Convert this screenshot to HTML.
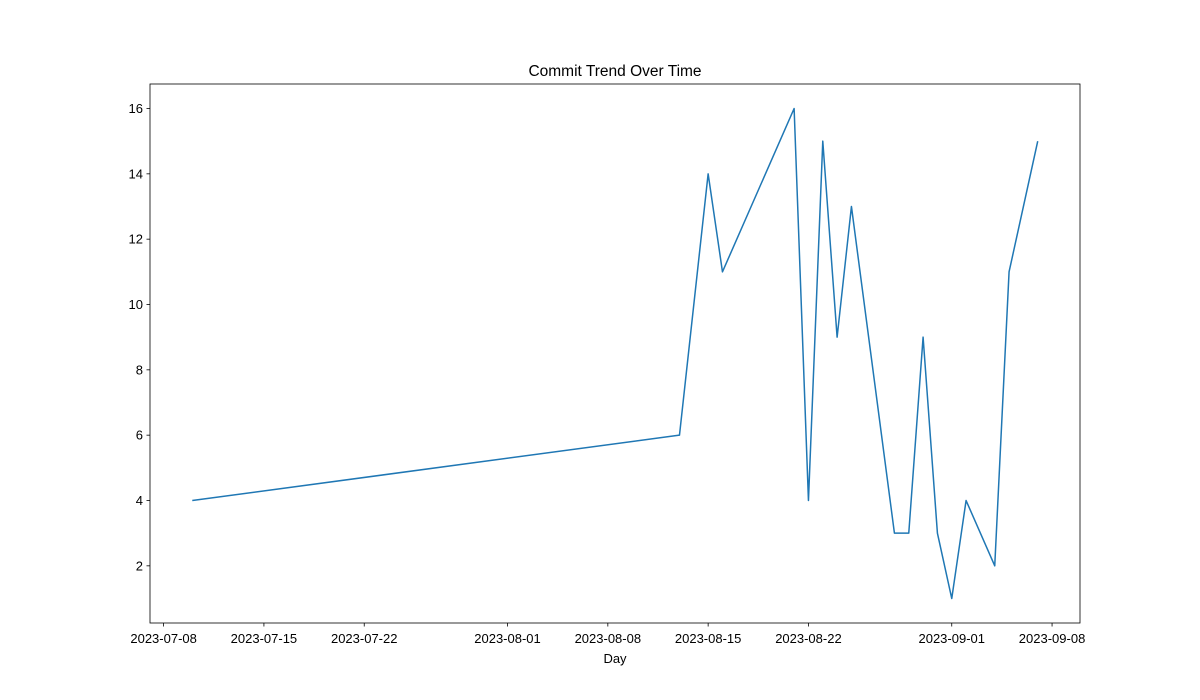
<!DOCTYPE html>
<html><head><meta charset="utf-8"><style>
html,body{margin:0;padding:0;background:#fff;}
svg{display:block;font-family:"Liberation Sans","DejaVu Sans",sans-serif;}
</style></head><body>
<svg id="chart" width="1200" height="700"></svg>
<script>
const dates = ["2023-07-10","2023-08-13","2023-08-15","2023-08-16","2023-08-21","2023-08-22","2023-08-23","2023-08-24","2023-08-25","2023-08-28","2023-08-29","2023-08-30","2023-08-31","2023-09-01","2023-09-02","2023-09-04","2023-09-05","2023-09-07"];
const commits = [4,6,14,11,16,4,15,9,13,3,3,9,3,1,4,2,11,15];
const xTickLabels = ["2023-07-08","2023-07-15","2023-07-22","2023-08-01","2023-08-08","2023-08-15","2023-08-22","2023-09-01","2023-09-08"];
const yTickLabels = [2,4,6,8,10,12,14,16];

const NS="http://www.w3.org/2000/svg";
const svg=document.getElementById('chart');
const L=150,R=1080,T=84,B=623;
const day=s=>Date.parse(s+"T00:00:00Z")/86400000;
const dd=dates.map(day);
const dmin=Math.min(...dd),dmax=Math.max(...dd),dpad=(dmax-dmin)*0.05;
const vmin=Math.min(...commits),vmax=Math.max(...commits),vpad=(vmax-vmin)*0.05;
const xs=d=>L+(d-(dmin-dpad))/((dmax+dpad)-(dmin-dpad))*(R-L);
const ys=v=>B-(v-(vmin-vpad))/((vmax+vpad)-(vmin-vpad))*(B-T);
function mk(tag,attrs,txt){const e=document.createElementNS(NS,tag);for(const k in attrs)e.setAttribute(k,attrs[k]);if(txt!==undefined)e.textContent=txt;svg.appendChild(e);return e;}

// line
const pts=dd.map((d,i)=>xs(d).toFixed(2)+","+ys(commits[i]).toFixed(2)).join(" ");
const line=mk('polyline',{points:pts,fill:'none',stroke:'#1f77b4','stroke-width':1.5,'stroke-linejoin':'round'});



// frame
const frame=mk('rect',{x:L,y:T,width:R-L,height:B-T,fill:'none',stroke:'#000','stroke-width':0.8});



// x ticks
xTickLabels.forEach(lbl=>{
  const x=xs(day(lbl));
  const t=mk('line',{x1:x,x2:x,y1:B,y2:B+3.5,stroke:'#000','stroke-width':0.8});
  
  
  const tx=mk('text',{x:x,y:B+20,'text-anchor':'middle','font-size':13,fill:'#000'},lbl);
  
  
});
// y ticks
yTickLabels.forEach(v=>{
  const y=ys(v);
  const t=mk('line',{x1:L-3.5,x2:L,y1:y,y2:y,stroke:'#000','stroke-width':0.8});
  
  
  const tx=mk('text',{x:L-7,y:y+4.5,'text-anchor':'end','font-size':13,fill:'#000'},String(v));
  
  
});
const title=mk('text',{x:(L+R)/2,y:76,'text-anchor':'middle','font-size':15.5,fill:'#000'},"Commit Trend Over Time");


const xl=mk('text',{x:(L+R)/2,y:663,'text-anchor':'middle','font-size':13,fill:'#000'},"Day");


</script>
</body></html>
